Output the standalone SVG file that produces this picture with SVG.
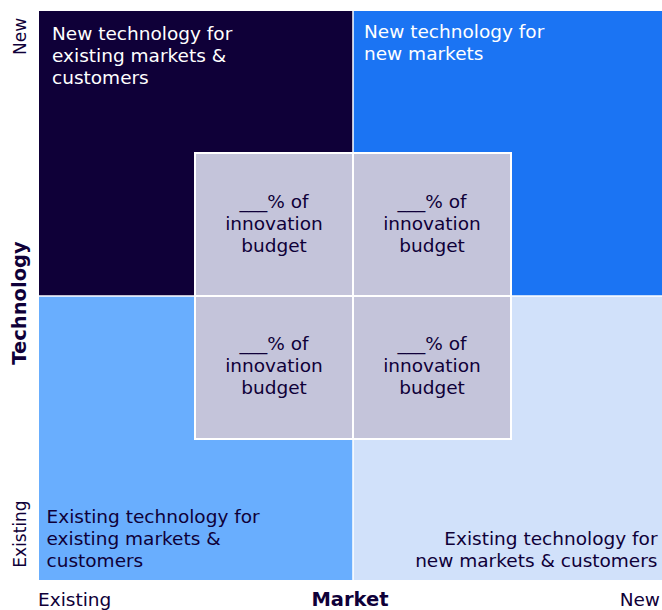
<svg xmlns="http://www.w3.org/2000/svg" width="662" height="610" viewBox="0 0 662 610">
  <style>
    text { font-family: "DejaVu Sans", "Liberation Sans", sans-serif; font-size: 18.5px; }
    .light { fill: #ffffff; }
    .dark { fill: #0f0038; }
    .mid { text-anchor: middle; }
    .end { text-anchor: end; }
    .bold { font-weight: bold; font-size: 19.5px; }
    .side { font-size: 17px; }
    .box { fill: #c4c4da; stroke: #ffffff; stroke-width: 2; }
    .gap { stroke: #ffffff; stroke-width: 1.5; }
  </style>
  <rect x="0" y="0" width="662" height="610" fill="#ffffff"/>

  <g id="q-new-tech-existing-markets">
    <rect x="39" y="11" width="314" height="285" fill="#0f0038"/>
    <text class="light" x="52" y="40">New technology for</text>
    <text class="light" x="52" y="62">existing markets &amp;</text>
    <text class="light" x="52" y="84">customers</text>
  </g>
  <g id="q-new-tech-new-markets">
    <rect x="353" y="11" width="309" height="285" fill="#1b74f3"/>
    <text class="light" x="364" y="37.5">New technology for</text>
    <text class="light" x="364" y="60">new markets</text>
  </g>
  <g id="q-existing-tech-existing-markets">
    <rect x="39" y="296" width="314" height="284" fill="#69aefe"/>
    <text class="dark" x="46.5" y="523">Existing technology for</text>
    <text class="dark" x="46.5" y="545">existing markets &amp;</text>
    <text class="dark" x="46.5" y="567">customers</text>
  </g>
  <g id="q-existing-tech-new-markets">
    <rect x="353" y="296" width="309" height="284" fill="#d1e1fa"/>
    <text class="dark end" x="657.5" y="545">Existing technology for</text>
    <text class="dark end" x="657.5" y="567">new markets &amp; customers</text>
  </g>
  <g id="dividers">
    <line class="gap" x1="353" y1="11" x2="353" y2="580"/>
    <line class="gap" x1="39" y1="296" x2="662" y2="296"/>
  </g>

  <g id="budget-top-left">
    <rect class="box" x="195" y="153" width="158" height="143"/>
    <text class="dark mid" x="274" y="208">___% of</text>
    <text class="dark mid" x="274" y="230">innovation</text>
    <text class="dark mid" x="274" y="252">budget</text>
  </g>
  <g id="budget-top-right">
    <rect class="box" x="353" y="153" width="158" height="143"/>
    <text class="dark mid" x="432" y="208">___% of</text>
    <text class="dark mid" x="432" y="230">innovation</text>
    <text class="dark mid" x="432" y="252">budget</text>
  </g>
  <g id="budget-bottom-left">
    <rect class="box" x="195" y="296" width="158" height="143"/>
    <text class="dark mid" x="274" y="350">___% of</text>
    <text class="dark mid" x="274" y="372">innovation</text>
    <text class="dark mid" x="274" y="394">budget</text>
  </g>
  <g id="budget-bottom-right">
    <rect class="box" x="353" y="296" width="158" height="143"/>
    <text class="dark mid" x="432" y="350">___% of</text>
    <text class="dark mid" x="432" y="372">innovation</text>
    <text class="dark mid" x="432" y="394">budget</text>
  </g>

  <g id="axis-technology">
    <text class="dark mid side" transform="translate(26,36.5) rotate(-90)">New</text>
    <text class="dark mid bold" transform="translate(25.5,303) rotate(-90)">Technology</text>
    <text class="dark mid side" transform="translate(25.5,534) rotate(-90)">Existing</text>
  </g>
  <g id="axis-market">
    <text class="dark" x="38" y="606">Existing</text>
    <text class="dark mid bold" x="350" y="606">Market</text>
    <text class="dark end" x="660" y="606">New</text>
  </g>
</svg>
